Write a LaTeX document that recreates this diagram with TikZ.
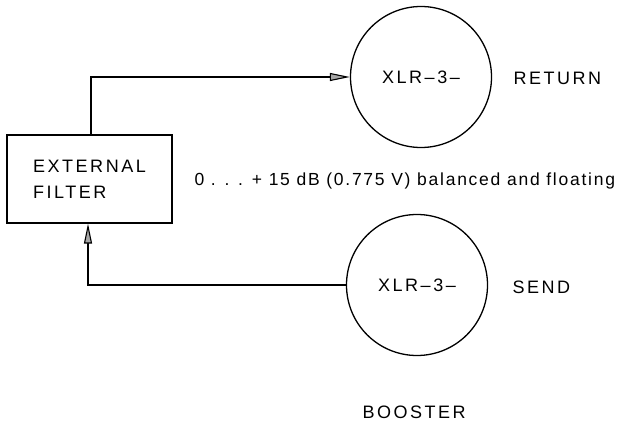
\documentclass[tikz,border=0pt]{standalone}
\usepackage{fontspec}
\setmainfont{Liberation Sans}
\newfontfamily\capsfont[LetterSpace=14]{Liberation Sans}
\newfontfamily\levelfont[LetterSpace=10]{Liberation Sans}
\usetikzlibrary{arrows.meta,positioning}

\begin{document}
\begin{tikzpicture}[x=1pt, y=-1pt, line width=1.1pt,
    every node/.style={font=\fontsize{18}{26}\selectfont\capsfont},
    socket/.style={draw, circle, minimum size=141pt, inner sep=0pt, line width=1.3pt},
    filterbox/.style={draw, rectangle, minimum width=165pt, minimum height=88pt, align=left},
    signal/.style={-{Triangle[length=20pt, width=8pt, fill=gray!70]}}]
      \useasboundingbox (0,0) rectangle (624,425);
      % nodes
      \node[filterbox] (filter) at (89.5,179) {EXTERNAL\\FILTER};
      \node[socket] (ret) at (421,77) {XLR\textendash3\textendash};
      \node[socket] (snd) at (417,285) {XLR\textendash3\textendash};
      % labels
      \node[anchor=west, inner sep=0pt] (retlabel) at (513,78) {RETURN};
      \node[anchor=west, inner sep=0pt] (sndlabel) at (512,287) {SEND};
      \node[anchor=west, inner sep=0pt] (booster) at (362,412) {BOOSTER};
      \node[anchor=west, inner sep=0pt, font=\fontsize{17.5}{20}\selectfont\levelfont] (level) at (194,181)
        {0 . . . + 15 dB (0.775 V) balanced and floating};
      % signal paths
      \draw[signal] ([xshift=1.5pt]filter.north) |- (ret.west);
      \draw[signal] (snd.west) -| ([xshift=-1.5pt]filter.south);
\end{tikzpicture}
\end{document}
